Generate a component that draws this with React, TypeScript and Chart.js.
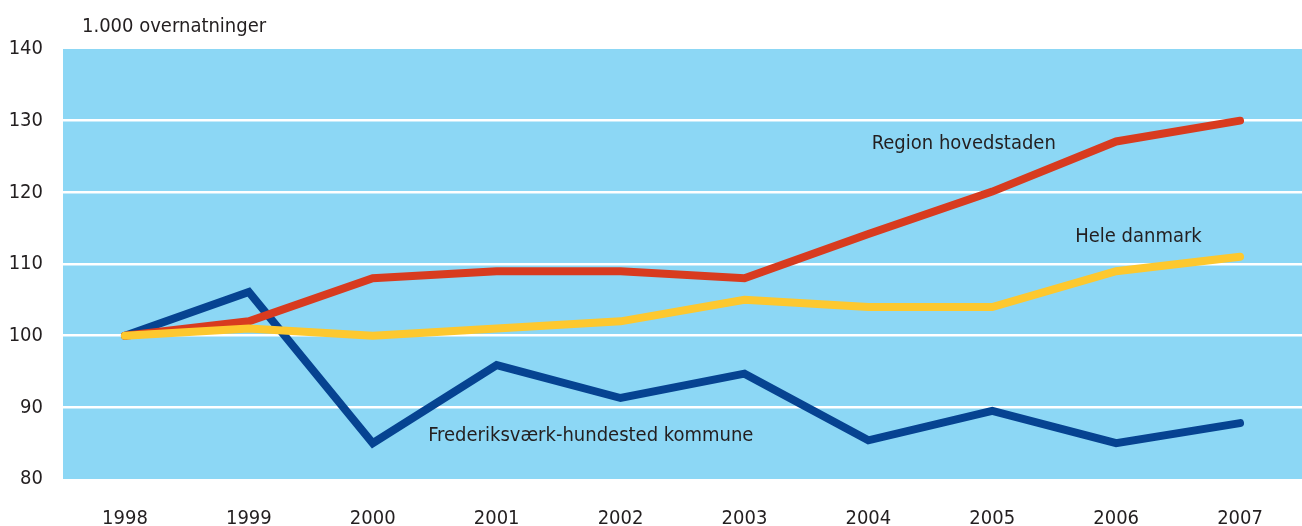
import React, { useEffect, useRef } from "react";
import { Chart, registerables } from "chart.js";

Chart.register(...registerables);

const years = ["1998", "1999", "2000", "2001", "2002", "2003", "2004", "2005", "2006", "2007"];
const heleDanmark = [100, 101, 100, 101, 102, 105, 104, 104, 109, 111];
const regionHovedstaden = [100, 102, 108, 109, 109, 108, 114.2, 120.1, 127.1, 130];
const frederiksvaerk = [100, 106.1, 85, 95.9, 91.3, 94.7, 85.4, 89.5, 85, 87.8];
const yTicks = [80, 90, 100, 110, 120, 130, 140];
const axisTitle = "1.000 overnatninger";
const seriesLabels = [
  { text: "Region hovedstaden", x: 6.77, y: 126.8 },
  { text: "Hele danmark", x: 8.18, y: 113.8 },
  { text: "Frederiksværk-hundested kommune", x: 3.76, y: 86 },
];

const FONT = "'Liberation Sans Narrow', 'DejaVu Sans Condensed', 'Arial Narrow', sans-serif";
const TEXT = "#231f20";
const BG = "#8cd7f5";

const decorPlugin = {
  id: "decor",
  beforeDraw(chart: any) {
    const { ctx, chartArea } = chart;
    ctx.save();
    ctx.fillStyle = BG;
    ctx.fillRect(chartArea.left, chartArea.top, chartArea.right - chartArea.left, chartArea.bottom - chartArea.top);
    ctx.restore();
  },
  afterDatasetsDraw(chart: any) {
    const { ctx, chartArea, scales } = chart;
    ctx.save();
    ctx.fillStyle = TEXT;
    ctx.font = `20px ${FONT}`;
    ctx.textBaseline = "middle";
    ctx.textAlign = "left";
    ctx.fillText(axisTitle, chartArea.left + 19, chartArea.top - 22);
    ctx.textAlign = "center";
    for (const l of seriesLabels) {
      ctx.fillText(l.text, scales.x.getPixelForValue(l.x), scales.y.getPixelForValue(l.y));
    }
    ctx.restore();
  },
};

export default function App() {
  const ref = useRef<HTMLCanvasElement | null>(null);
  useEffect(() => {
    document.body.style.margin = "0";
    const chart = new Chart(ref.current as HTMLCanvasElement, {
      type: "line",
      data: {
        labels: years,
        datasets: [
          { label: "Hele danmark", data: heleDanmark, borderColor: "#fdc82f" },
          { label: "Region hovedstaden", data: regionHovedstaden, borderColor: "#d83b1f" },
          { label: "Frederiksværk-hundested kommune", data: frederiksvaerk, borderColor: "#064391" },
        ].map((d) => ({
          ...d,
          borderWidth: 8,
          pointRadius: 0,
          tension: 0,
          borderCapStyle: "round" as const,
          borderJoinStyle: "miter" as const,
          fill: false,
        })),
      },
      options: {
        animation: false,
        responsive: false,
        maintainAspectRatio: false,
        layout: { padding: { top: 49, left: 0, right: 0, bottom: 0 } },
        plugins: { legend: { display: false }, tooltip: { enabled: false } },
        scales: {
          x: {
            offset: true,
            grid: { display: false, drawTicks: false },
            border: { display: false },
            ticks: { color: TEXT, font: { family: FONT, size: 20 }, padding: 28, maxRotation: 0 },
            afterFit: (s: any) => { s.height = 47; },
          },
          y: {
            min: 80,
            max: 140,
            afterBuildTicks: (s: any) => { s.ticks = yTicks.map((v) => ({ value: v })); },
            grid: {
              drawTicks: false,
              lineWidth: 2.5,
              color: (c: any) => (c.tick && (c.tick.value === 80 || c.tick.value === 140) ? "rgba(0,0,0,0)" : "#ffffff"),
            },
            border: { display: false },
            ticks: { color: TEXT, font: { family: FONT, size: 20 }, padding: 20 },
            afterFit: (s: any) => { s.width = 63; },
          },
        },
      },
      plugins: [decorPlugin],
    });
    return () => chart.destroy();
  }, []);
  return (
    <div style={{ position: "absolute", left: 0, top: 0, width: 1302, height: 526 }}>
      <canvas ref={ref} width={1302} height={526} style={{ width: 1302, height: 526 }} />
    </div>
  );
}
